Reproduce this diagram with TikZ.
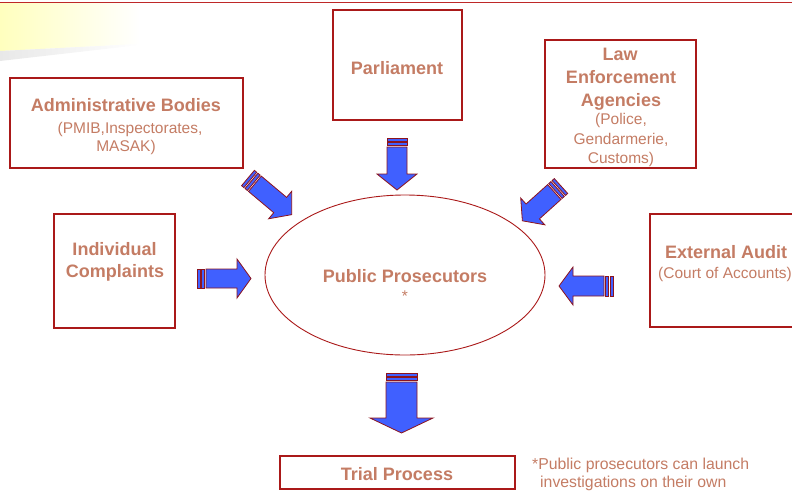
\documentclass[tikz,border=0pt]{standalone}
\usepackage{fontspec}
\setmainfont{Liberation Sans}
\usetikzlibrary{shapes.geometric}
\definecolor{txt}{RGB}{196,124,100}
\definecolor{bord}{RGB}{170,25,25}
\definecolor{topred}{RGB}{190,40,40}
\definecolor{ablue}{RGB}{64,96,255}
\definecolor{aedge}{RGB}{140,20,30}
\definecolor{pale}{RGB}{255,255,190}
\newcommand\blockarrow[7]{%
\begin{scope}[shift={(#1,#2)},rotate=#3]
 \draw[arrowline] (0,-#5) rectangle (3,#5);
 \draw[arrowline] (4.5,-#5) rectangle (7.5,#5);
 \draw[arrowline] (9,-#5) -- ({#4-#7},-#5) -- ({#4-#7},-#6) -- (#4,0) -- ({#4-#7},#6) -- ({#4-#7},#5) -- (9,#5) -- cycle;
\end{scope}}
\tikzset{
 arrowline/.style={fill=ablue, draw=aedge, line width=0.8pt, line join=miter},
 box/.style={draw=bord, line width=1.1pt, inner sep=0pt, outer sep=0pt},
 title/.style={font=\bfseries\fontsize{18}{20}\selectfont, text=txt, inner sep=0pt, text height=12.9pt, text depth=0pt},
 sub/.style={font=\fontsize{15.5}{18}\selectfont, text=txt, inner sep=0pt, text height=11.1pt, text depth=0pt},
 note/.style={font=\fontsize{15.8}{18}\selectfont, text=txt, inner sep=0pt, text height=11.3pt, text depth=0pt, anchor=west},
}
\begin{document}
\begin{tikzpicture}[x=1pt,y=-1pt]
\useasboundingbox (0,0) rectangle (792,491);
% top decoration
\shade[left color=pale, right color=white] (0,3) -- (140,3) -- (140,44) -- (0,51) -- cycle;
\shade[left color=black!9, right color=white] (0,51) -- (140,44) -- (140,45) -- (0,61) -- cycle;
\draw[topred, line width=1.5pt] (0,2.5) -- (792,2.5);
% boxes
\node[box, minimum width=233, minimum height=90] (admin) at (126.5,123) {};
\node[box, minimum width=129, minimum height=110] (parl) at (397.5,65) {};
\node[box, minimum width=151, minimum height=128] (law) at (620.5,104) {};
\node[box, minimum width=121, minimum height=114] (indiv) at (114.5,271) {};
\node[box, minimum width=160, minimum height=113] (ext) at (730,270.5) {};
\node[box, minimum width=235, minimum height=33] (trial) at (397.5,472.5) {};
\node[draw=bord, line width=0.9pt, ellipse, minimum width=280, minimum height=160, inner sep=0pt] (pp) at (405,275) {};
% texts
\node[title] (t1) at (126,105) {Administrative Bodies};
\node[sub] (t1a) at (130,128) {(PMIB,Inspectorates,};
\node[sub] (t1b) at (126,146) {MASAK)};
\node[title] (t2) at (397,68) {Parliament};
\node[title] (t3) at (620,54) {Law};
\node[title] (t3a) at (621,77) {Enforcement};
\node[title] (t3b) at (621,100) {Agencies};
\node[sub] (t3c) at (621,119) {(Police,};
\node[sub] (t3d) at (621,139) {Gendarmerie,};
\node[sub] (t3e) at (621,158) {Customs)};
\node[title] (t4) at (114.5,249) {Individual};
\node[title] (t4a) at (115,271) {Complaints};
\node[title] (t5) at (726,252) {External Audit};
\node[sub] (t5a) at (725,273) {(Court of Accounts)};
\node[title] (t6) at (405,276) {Public Prosecutors};
\node[sub] (t6a) at (405,296) {*};
\node[title] (t7) at (397,474) {Trial Process};
\node[note] (n1) at (532,464) {*Public prosecutors can launch};
\node[note] (n2) at (540,482) {investigations on their own};
% block arrows
\blockarrow{397}{138}{-90}{52}{10}{20}{16}
\blockarrow{401.5}{373}{-90}{60}{15.5}{31.5}{15}
\blockarrow{197}{278.5}{0}{54}{9.5}{19.5}{14}
\blockarrow{613}{286}{180}{54}{10}{19}{14}
\blockarrow{248}{178}{-40}{57}{10}{18}{15}
\blockarrow{561}{186}{-138}{52}{10}{18}{14}
\end{tikzpicture}
\end{document}
